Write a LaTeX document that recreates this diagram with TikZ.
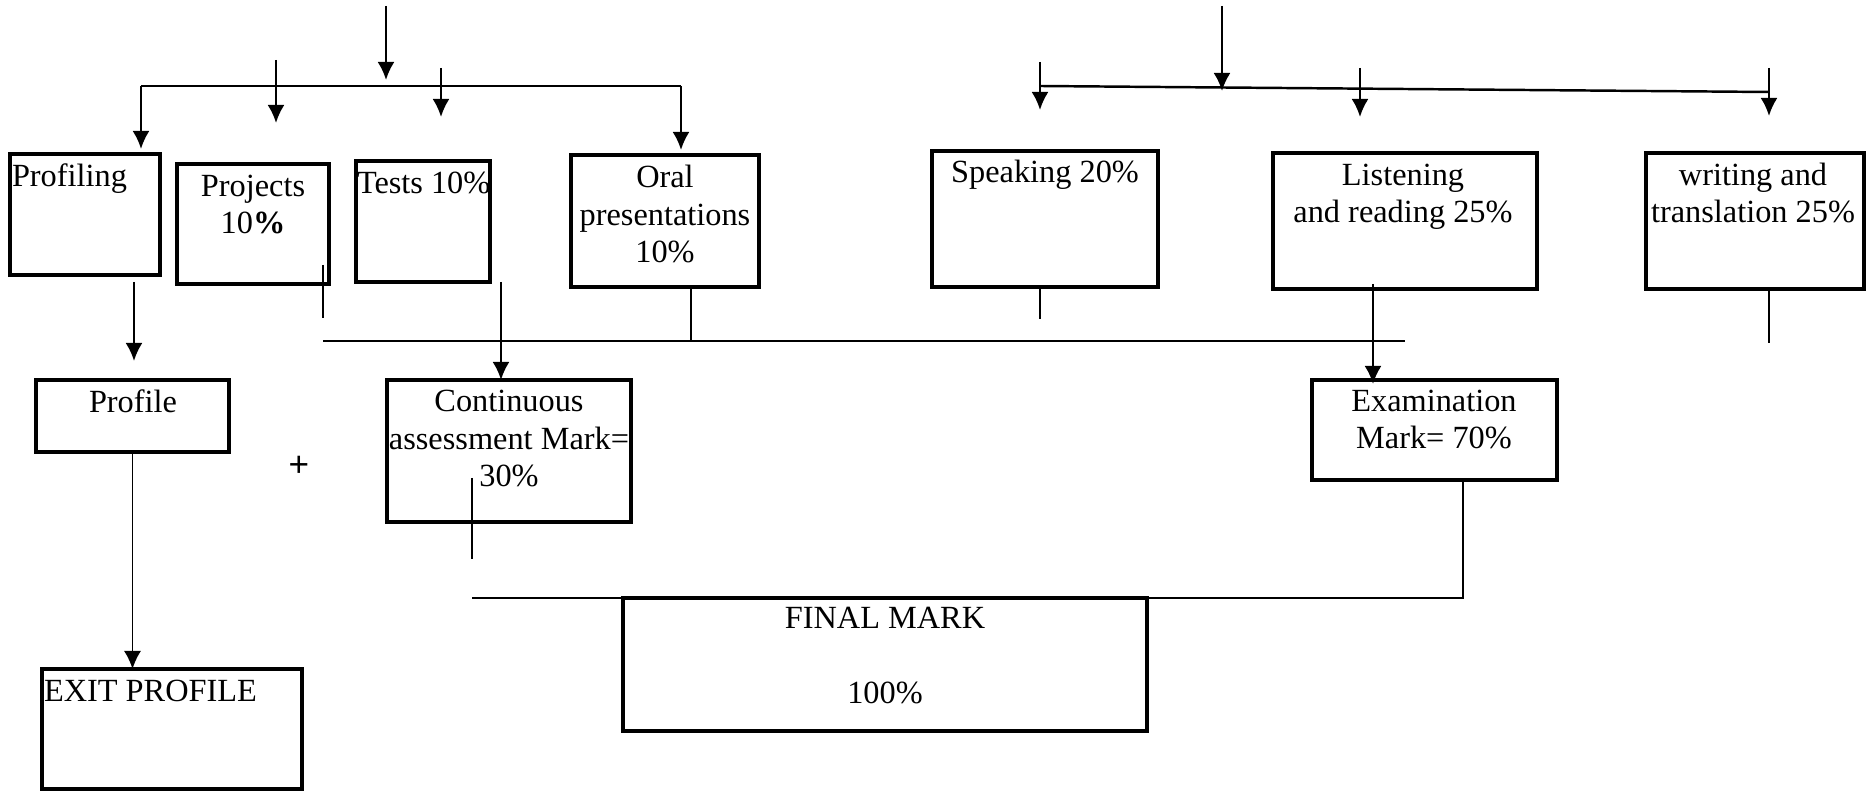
\documentclass[tikz,border=0pt]{standalone}
\usepackage{fontspec}
\setmainfont{Liberation Serif}
\newfontfamily\plusfont{Liberation Sans}
\usetikzlibrary{positioning,arrows.meta}

\begin{document}
\begin{tikzpicture}[x=0.1mm, y=-0.1mm,
    every node/.style={font=\fontsize{9.2}{10.8}\selectfont, inner sep=0pt, outer sep=0pt},
    box/.style={draw, line width=0.9pt, anchor=north west},
    txt/.style={align=center, anchor=base},
    ltxt/.style={anchor=base west},
    arr/.style={-{Latex[length=1.8mm,width=1.7mm]}, line width=0.7pt},
    link/.style={line width=0.7pt},
    hair/.style={line width=0.5pt}]
  \useasboundingbox (0,0) rectangle (1874,791);

  % continuous assessment side
  \node[box, minimum width=15mm, minimum height=12.1mm] (profiling) at (10,154) {};
  \node[box, minimum width=15.2mm, minimum height=12mm] (projects) at (177,164) {};
  \node[box, minimum width=13.4mm, minimum height=12.1mm] (tests) at (356,161) {};
  \node[box, minimum width=18.8mm, minimum height=13.2mm] (oral) at (571,155) {};
  % (multi-line texts sit on their last baseline)
  \node[ltxt] (profiling-t) at (12,187) {Profiling};
  \node[txt] (projects-t) at (253,234) {Projects\\10\textbf{\%}};
  \node[ltxt] (tests-t) at (357,194) {Tests 10\%};
  \node[txt] (oral-t) at (665,263) {Oral\\presentations\\10\%};

  % examination side
  \node[box, minimum width=22.6mm, minimum height=13.6mm] (speaking) at (932,151) {};
  \node[box, minimum width=26.4mm, minimum height=13.6mm] (listening) at (1273,153) {};
  \node[box, minimum width=21.8mm, minimum height=13.6mm] (writing) at (1646,153) {};
  \node[txt] (speaking-t) at (1045,183) {Speaking 20\%};
  \node[txt] (listening-t) at (1403,223) {Listening\\and reading 25\%};
  \node[txt] (writing-t) at (1753,223) {writing and\\translation 25\%};

  % marks
  \node[box, minimum width=19.3mm, minimum height=7.2mm] (profile) at (36,380) {};
  \node[box, minimum width=24.4mm, minimum height=14.2mm] (cont) at (387,380) {};
  \node[box, minimum width=24.5mm, minimum height=10mm] (exam) at (1312,380) {};
  \node[box, minimum width=52.4mm, minimum height=13.3mm] (final) at (623,598) {};
  \node[box, minimum width=26mm, minimum height=12mm] (exit) at (42,669) {};
  \node[txt] (profile-t) at (133,413) {Profile};
  \node[txt] (cont-t) at (509,487) {Continuous\\assessment Mark=\\30\%};
  \node[txt] (exam-t) at (1434,449) {Examination\\Mark= 70\%};
  \node[txt] (final-t) at (885,704) {FINAL MARK\\[10.8pt]100\%};
  \node[ltxt] (exit-t) at (44,702) {EXIT PROFILE};
  \node[font=\plusfont\fontsize{10}{12}\selectfont] (plus) at (299,466) {+};

  % top arrows, left
  \coordinate (top-l) at (386,6);
  \coordinate (top-l-end) at (386,80);
  \coordinate (br-l) at (141,86);
  \coordinate (br-r) at (681,86);
  \coordinate (proj-in) at (276,60);
  \coordinate (proj-in-end) at (276,123);
  \coordinate (test-in) at (441,68);
  \coordinate (test-in-end) at (441,117);
  \draw[arr] (top-l) -- (top-l-end);
  \draw[link] (br-l) -- (br-r);
  \draw[arr, shorten >=0.5mm] (br-l) -- (br-l |- profiling.north);
  \draw[arr, shorten >=0.5mm] (br-r) -- (br-r |- oral.north);
  \draw[arr] (proj-in) -- (proj-in-end);
  \draw[arr] (test-in) -- (test-in-end);

  % top arrows, right
  \coordinate (top-r) at (1222,6);
  \coordinate (top-r-end) at (1222,91);
  \coordinate (br2-l) at (1040,86);
  \coordinate (br2-r) at (1769,92);
  \coordinate (spk-in) at (1040,62);
  \coordinate (spk-in-end) at (1040,110);
  \coordinate (lis-in) at (1360,68);
  \coordinate (lis-in-end) at (1360,117);
  \coordinate (wri-in) at (1769,68);
  \coordinate (wri-in-end) at (1769,116);
  \draw[arr] (top-r) -- (top-r-end);
  \draw[link] (br2-l) -- (br2-r);
  \draw[arr] (spk-in) -- (spk-in-end);
  \draw[arr] (lis-in) -- (lis-in-end);
  \draw[arr] (wri-in) -- (wri-in-end);

  % lines under the boxes
  \coordinate (bar-l) at (323,341);
  \coordinate (bar-r) at (1405,341);
  \coordinate (proj-out) at (323,265);
  \coordinate (proj-out-end) at (323,318);
  \coordinate (spk-out) at (1040,319);
  \coordinate (oral-out) at (691,341);
  \coordinate (wri-out) at (1769,343);
  \draw[link] (bar-l) -- (bar-r);
  \draw[link] (proj-out) -- (proj-out-end);
  \draw[link] (spk-out |- speaking.south) -- (spk-out);
  \draw[link] (oral-out |- oral.south) -- (oral-out);
  \draw[link] (wri-out |- writing.south) -- (wri-out);

  % down to the marks
  \coordinate (prf-x) at (134,282);
  \coordinate (cnt-x) at (501,282);
  \coordinate (exm-x) at (1373,284);
  \draw[arr] (prf-x) -- ([yshift=1.9mm]prf-x |- profile.north);
  \draw[arr] (cnt-x) -- (cnt-x |- cont.north);
  \draw[arr, shorten >=-0.4mm] (exm-x) -- (exm-x |- exam.north);
  \draw[arr, hair] (profile.south) -- (profile.south |- exit.north);

  % to the final mark
  \coordinate (cnt-out) at (472,478);
  \coordinate (cnt-out-end) at (472,559);
  \coordinate (exm-out) at (1463,480);
  \coordinate (fin-bar) at (472,598);
  \draw[link] (cnt-out) -- (cnt-out-end);
  \draw[hair] (exm-out) |- (fin-bar);
\end{tikzpicture}
\end{document}
